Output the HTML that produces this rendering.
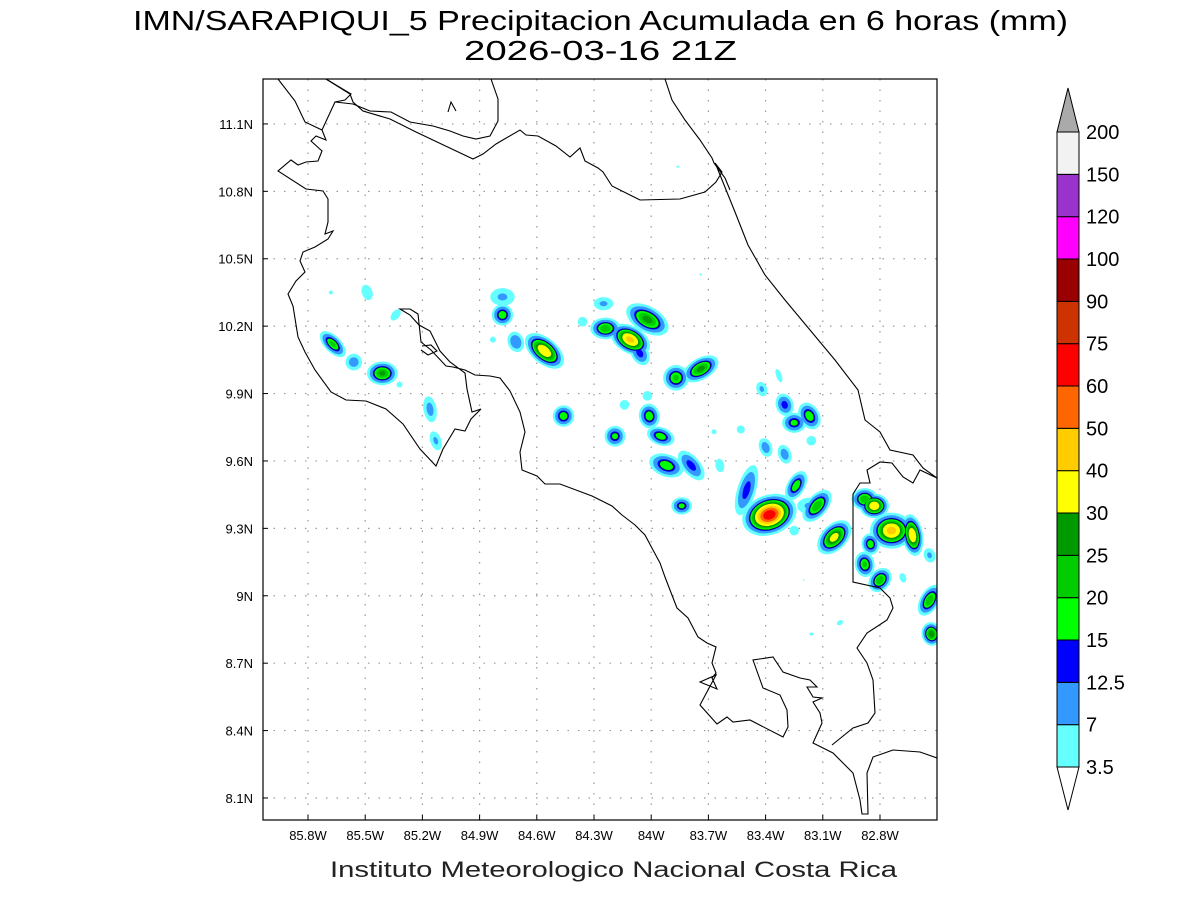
<!DOCTYPE html>
<html><head><meta charset="utf-8"><style>
html,body{margin:0;padding:0;background:#fff;}
svg{display:block;font-family:"Liberation Sans",sans-serif;}
</style></head><body>
<svg id="chart" width="1200" height="900" viewBox="0 0 1200 900" xmlns="http://www.w3.org/2000/svg">
<rect width="1200" height="900" fill="#fff"/>
<text x="133" y="30" font-size="28" textLength="935" lengthAdjust="spacingAndGlyphs" fill="#000">IMN/SARAPIQUI_5 Precipitacion Acumulada en 6 horas (mm)</text>
<text x="464" y="60" font-size="28" textLength="273" lengthAdjust="spacingAndGlyphs" fill="#000">2026-03-16 21Z</text>
<text x="330" y="877" font-size="22" textLength="567" lengthAdjust="spacingAndGlyphs" fill="#222">Instituto Meteorologico Nacional Costa Rica</text>
<defs><clipPath id="plotclip"><rect x="263" y="79" width="674" height="741"/></clipPath></defs>
<g id="grid"></g>
<g id="blobs" clip-path="url(#plotclip)"></g>
<g id="coast" clip-path="url(#plotclip)" fill="none" stroke="#000" stroke-width="1.1"></g>
<rect x="263" y="79" width="674" height="741" fill="none" stroke="#000" stroke-width="1.2"/>
<g id="axes"></g>
<g id="cbar"></g>
</svg>
<script>
// ---- data ----
const lonTicks = [-85.8,-85.5,-85.2,-84.9,-84.6,-84.3,-84.0,-83.7,-83.4,-83.1,-82.8];
const lonTickLabels = ["85.8W","85.5W","85.2W","84.9W","84.6W","84.3W","84W","83.7W","83.4W","83.1W","82.8W"];
const latTicks = [11.1,10.8,10.5,10.2,9.9,9.6,9.3,9.0,8.7,8.4,8.1];
const latTickLabels = ["11.1N","10.8N","10.5N","10.2N","9.9N","9.6N","9.3N","9N","8.7N","8.4N","8.1N"];
const levels = [3.5,7,12.5,15,20,25,30,40,50,60,75,90,100,120,150,200];
const levelColors = ["#66ffff","#3399ff","#0000ff","#00ff00","#00cc00","#009900","#ffff00","#ffcc00","#ff6600","#ff0000","#cc3300","#990000","#ff00ff","#9933cc","#f2f2f2"];
const blobLon = [-85.67,-85.56,-85.41,-85.49,-85.68,-85.34,-85.32,-85.16,-85.13,-84.78,-84.78,-84.83,-84.71,-84.56,-84.46,-84.25,-84.24,-84.11,-84.02,-84.06,-84.36,-84.01,-84.02,-84.19,-84.14,-83.95,-83.92,-83.84,-83.74,-83.87,-83.79,-83.64,-83.50,-83.38,-83.24,-83.17,-83.25,-83.13,-83.04,-83.40,-83.30,-83.42,-83.30,-83.25,-83.17,-83.16,-82.88,-82.83,-82.74,-82.63,-82.85,-82.80,-82.88,-82.54,-82.53,-82.68,-82.54,-83.53,-83.67,-83.33,-83.86,-83.74,-83.16,-83.01,-83.20];
const blobLat = [10.12,10.04,9.99,10.35,10.35,10.25,9.94,9.83,9.69,10.33,10.25,10.14,10.13,10.09,9.80,10.30,10.19,10.14,10.23,10.08,10.22,9.80,9.89,9.71,9.85,9.71,9.58,9.40,10.01,9.97,9.58,9.58,9.47,9.36,9.49,9.40,9.29,9.40,9.26,9.66,9.63,9.92,9.85,9.77,9.80,9.69,9.43,9.40,9.29,9.27,9.23,9.07,9.14,8.98,8.83,9.08,9.18,9.74,9.73,9.98,10.91,10.43,8.83,8.88,9.07];
const blobPeak = [22,10,27,6,4,5,4,9,8,8,20,4,12,40,20,8,25,45,28,15,5,20,5,18,5,20,20,18,28,22,15,7,15,70,20,8,5,25,35,10,10,8,15,18,20,5,25,40,45,40,20,25,22,25,30,5,8,5,4,6,3.8,3.8,4,4.5,3.8];
const blobSize = [.045,.03,.04,.04,.02,.04,.03,.05,.04,.05,.03,.03,.035,.055,.03,.04,.04,.05,.06,.04,.03,.035,.03,.03,.03,.04,.05,.03,.05,.035,.055,.03,.08,.06,.045,.05,.03,.05,.05,.035,.035,.03,.035,.035,.04,.03,.035,.035,.05,.05,.03,.035,.035,.045,.03,.03,.03,.025,.025,.035,.02,.015,.02,.025,.01];
const blobElong = [2,1,1.3,1.5,1,1.6,1,2,1.8,1.4,1,1,1.3,1.8,1,1.5,1.4,1.6,1.8,1.5,1,1.2,1,1,1,1.6,1.6,1.2,1.8,1,2,1.5,2.8,1.4,1.8,1.5,1,1.8,1.6,1.5,1.5,1.4,1.3,1.2,1.4,1,1.2,1.2,1.2,2,1.2,1.3,1.3,1.8,1.2,1.5,1.3,1,1,2.5,1.5,1,1.3,1.5,1];
const blobAngle = [45,0,0,70,0,-50,0,80,70,0,0,0,70,40,0,0,0,30,30,60,60,80,0,0,0,20,20,0,-30,0,50,80,-73,-20,-60,0,0,-50,-45,70,70,70,70,0,60,0,0,0,0,80,80,-50,80,-60,80,70,70,0,0,70,0,0,0,-30,0];

// ---- axes ----
const lon0=-86.036, lon1=-82.501, lat0=8.002, lat1=11.3;
const X0=263, X1=937, Y0=79, Y1=820;
const xs = lon => X0 + (lon-lon0)/(lon1-lon0)*(X1-X0);
const ys = lat => Y1 - (lat-lat0)/(lat1-lat0)*(Y1-Y0);
const NS="http://www.w3.org/2000/svg";
function mk(tag, attrs, parent){const e=document.createElementNS(NS,tag);for(const k in attrs)e.setAttribute(k,attrs[k]);parent.appendChild(e);return e;}

const grid=document.getElementById('grid'), axes=document.getElementById('axes');
lonTicks.forEach((v,i)=>{
  const x=xs(v);
  const l=mk('line',{x1:x,x2:x,y1:Y0,y2:Y1,stroke:'#999','stroke-width':1.2,'stroke-dasharray':'1.5,9'},grid);
  
  
  const t=mk('line',{x1:x,x2:x,y1:Y1,y2:Y1-5,stroke:'#000'},axes);
  
  
  const tx=mk('text',{x:x,y:840,'font-size':13,'text-anchor':'middle',fill:'#000'},axes);
  tx.textContent=lonTickLabels[i];
  
  
});
latTicks.forEach((v,i)=>{
  const y=ys(v);
  const l=mk('line',{x1:X0,x2:X1,y1:y,y2:y,stroke:'#999','stroke-width':1.2,'stroke-dasharray':'1.5,9'},grid);
  
  
  const t=mk('line',{x1:X0,x2:X0+5,y1:y,y2:y,stroke:'#000'},axes);
  
  
  const tx=mk('text',{x:253,y:y+5,'font-size':13,'text-anchor':'end',fill:'#000'},axes);
  tx.textContent=latTickLabels[i];
  
  
});

// ---- precipitation blobs ----
const blobs=document.getElementById('blobs');
const pxPerDeg=(X1-X0)/(lon1-lon0);
for(let li=0; li<levelColors.length; li++){
  const thr=levels[li];
  for(let b=0;b<blobPeak.length;b++){
    if(blobPeak[b]<=thr) continue;
    const s=blobSize[b]*pxPerDeg;
    const f=Math.sqrt(2*Math.log(blobPeak[b]/thr));
    const rx=s*f, ry=s*f/blobElong[b];
    const cx=xs(blobLon[b]), cy=ys(blobLat[b]);
    const e=mk('ellipse',{cx:cx,cy:cy,rx:rx,ry:ry,fill:levelColors[li],transform:`rotate(${blobAngle[b]} ${cx} ${cy})`},blobs);
    if(thr===15){e.setAttribute('stroke','#000060');e.setAttribute('stroke-width','0.8');}
    
    
  }
}

// ---- coastlines (basemap, pixel polylines) ----
const coastPx = [
 "278,79 295,101 305,122 322,130 335,102 345,100 351,94 326,79",
 "335,102 353,104 370,111 391,112 410,122 433,126 450,131 463,136 476,139 490,136 498,121 498,99 491,79",
 "326,79 350,94 353,102 363,111 390,119 416,132 473,159 483,154 496,144 520,130 526,135 538,136 556,146 570,157 580,148 585,161 598,168 603,172 612,186 640,200 680,199 705,192 716,182 722,172 715,163",
 "665,79 672,100 685,120 700,140 712,158 714,163 725,178 730,190",
 "716,165 735,212 748,245 765,275 785,300 810,330 835,360 858,390 865,420 880,432 890,450 913,455 923,468 937,478",
 "322,130 326,140 316,136 311,141 322,151 318,161 306,162 298,165 291,160 278,171 306,189 323,191 328,199 328,222 325,234 333,231 328,239 315,247 303,252 300,261 305,272 296,281 288,294 293,306 298,337 305,352 315,370 331,392 346,400 366,401 386,409 403,424 420,449 436,466 443,449 455,429 465,431 471,419 481,409 472,412 467,389 465,373 450,362 440,351 430,331 419,325 410,315 400,309 410,309 418,314 421,342 431,350 446,366 453,367 465,370 475,375 490,376 500,378 510,391 520,412 525,432 520,452 522,470 537,476 545,484 560,484 592,496 612,506 622,515 635,525 645,535 653,550 660,563 665,577 670,590 677,608 688,618 698,637 707,643 716,647 712,663 716,673 712,678 717,689 700,682 716,675 700,705 717,724 727,717 733,722 750,720 783,737 788,727 787,710 780,695 763,688 753,660 773,657 783,672 800,678 810,680 817,687 807,687 813,697 822,698 813,702 820,713 822,723 813,743 833,753 853,773 860,800 862,814 868,814 867,773 873,757 893,750 920,752 937,758",
 "832,745 853,728 868,723 875,713 873,680 867,663 857,648 867,633 887,620 893,608 890,598 880,588 853,582 853,494 860,483 870,483 867,470 880,462 892,463 903,477 913,483 920,470 937,478",
 "422,346 431,345 437,351 428,355 421,350",
 "448,112 451,102 456,111"
];
const coast=document.getElementById('coast');
coastPx.forEach(p=>{
  const pl=mk('polyline',{points:p},coast);
  
  
});

// ---- colorbar ----
const cbar=document.getElementById('cbar');
const cbX=1057, cbW=22, cbTop=132, cbBot=767;
const step=(cbBot-cbTop)/levelColors.length;
const tri1=mk('polygon',{points:`${cbX},${cbTop} ${cbX+cbW/2},88 ${cbX+cbW},${cbTop}`,fill:'#aaaaaa',stroke:'#000'},cbar);


const tri2=mk('polygon',{points:`${cbX},${cbBot} ${cbX+cbW/2},810 ${cbX+cbW},${cbBot}`,fill:'#ffffff',stroke:'#000'},cbar);


levelColors.forEach((c,i)=>{
  const y=cbBot-(i+1)*step;
  const r=mk('rect',{x:cbX,y:y,width:cbW,height:step,fill:c,stroke:'#000','stroke-width':1},cbar);
  
  
});
levels.forEach((v,i)=>{
  const y=cbBot-i*step;
  const t=mk('text',{x:1086,y:y+7,'font-size':20,fill:'#000'},cbar);
  t.textContent=String(v);
  
  
});
</script>
</body></html>
